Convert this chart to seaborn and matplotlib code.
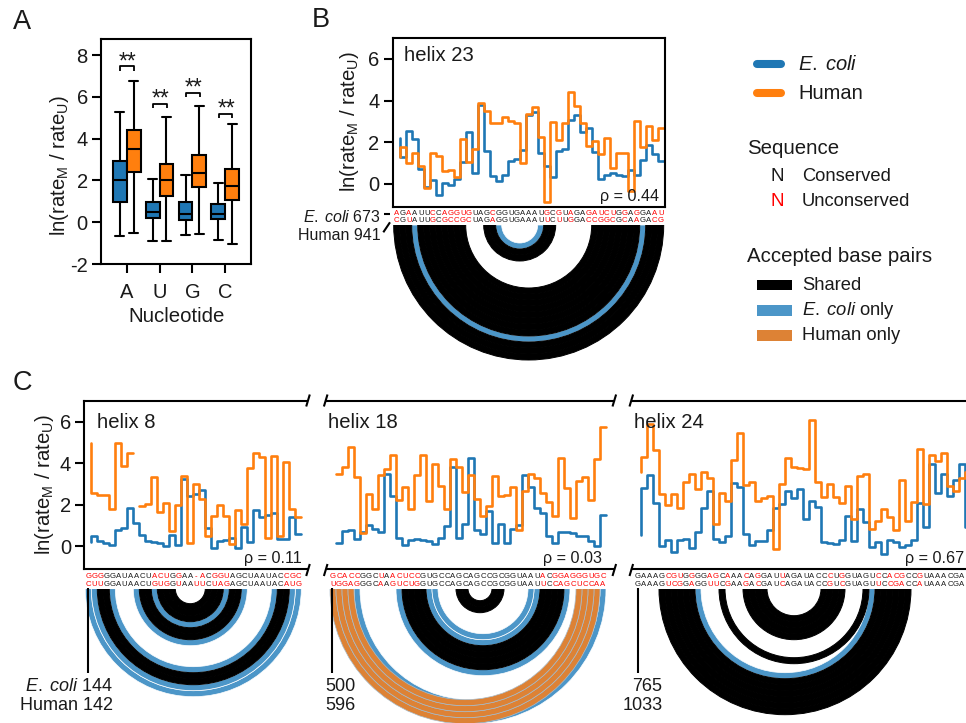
import numpy as np
import pandas as pd
import matplotlib
matplotlib.use("Agg")
import matplotlib.pyplot as plt
from matplotlib.patches import Wedge, Rectangle
import seaborn as sns

W, H = 966, 723
BLUE, ORANGE = "#1f77b4", "#ff7f0e"
ARC_BLUE, ARC_ORANGE = "#4c96c8", "#dd8235"
RED = "#ff0000"
INK = "#1a1a1a"

# ---------- Panel A: five-number summaries (min, q1, median, q3, max) ----------
nucleotides = ["A", "U", "G", "C"]
ecoli_box = {
    "A": [-0.67, 0.97, 2.03, 2.94, 5.27],
    "U": [-0.88, 0.21, 0.51, 0.97, 2.09],
    "G": [-0.62, 0.13, 0.41, 0.97, 2.24],
    "C": [-0.85, 0.14, 0.37, 0.86, 1.90],
}
human_box = {
    "A": [-0.50, 2.38, 3.51, 4.41, 6.77],
    "U": [-0.88, 1.26, 2.01, 2.78, 5.03],
    "G": [-0.57, 1.68, 2.36, 3.23, 5.54],
    "C": [-1.05, 1.07, 1.74, 2.54, 4.70],
}
bracket_heights = [7.46, 5.67, 6.18, 5.20]

# ---------- Rate traces ----------
h23_ecoli = [2.22,1.28,2.56,2.16,0.70,-0.13,0.19,-0.53,0.06,-0.05,0.22,1.07,2.51,0.54,3.79,1.58,0.38,0.14,0.42,1.10,1.18,1.63,3.30,3.47,1.47,0.85,0.32,1.60,1.68,3.07,3.31,2.51,2.70,1.52,0.24,0.43,0.51,0.43,0.40,0.67,0.43,1.15,1.87,1.42,1.10]
h23_human = [1.31,1.79,0.99,1.47,0.88,-0.18,1.47,1.36,0.62,0.67,0.32,2.16,1.07,1.68,3.90,3.50,2.91,2.91,3.23,3.02,2.91,0.99,3.36,3.68,2.24,-0.85,2.99,2.11,2.93,4.40,3.76,2.94,1.84,2.08,1.44,2.22,0.75,1.47,1.50,-0.34,3.04,1.79,2.80,2.10,2.67]
h8_ecoli = [0.20,0.51,0.26,0.16,0.08,0.78,0.88,1.87,1.12,0.54,0.24,0.19,0.16,0.03,0.56,0.08,3.23,2.43,2.50,2.70,0.88,-0.10,0.24,0.30,0.40,-0.08,0.91,0.19,1.76,1.39,1.50,1.63,0.35,0.35,1.39,0.61]
h8_human = [4.99,2.59,2.46,2.46,1.79,4.99,3.87,4.51,1.92,1.92,2.06,3.36,1.66,2.11,0.75,1.98,3.39,0.16,2.99,2.27,0.51,1.47,1.98,1.47,0.11,1.76,1.07,3.78,4.51,4.30,0.38,4.35,0.48,4.08,1.79,1.41]
h8_human_break = 8  # the human trace has no value across the alignment gap before this index
h18_ecoli = [0.16,0.16,0.75,0.80,0.35,0.70,1.02,0.86,0.67,3.47,2.43,0.38,0.08,0.30,0.35,0.30,0.26,0.13,0.40,0.99,3.82,0.40,1.07,4.27,0.78,0.59,1.71,0.14,1.10,0.16,0.86,1.02,3.42,2.86,1.87,1.63,0.51,0.16,0.67,0.67,0.62,0.51,0.48,0.27,0.03,1.50]
h18_human = [3.47,3.47,3.82,4.80,3.34,0.64,2.54,1.79,3.44,3.71,4.40,2.22,2.88,1.79,3.44,4.42,2.19,3.95,2.91,1.82,4.19,3.84,2.64,3.44,2.27,1.47,1.95,3.39,2.43,2.48,2.86,0.80,2.67,3.47,3.31,2.56,2.14,1.47,4.27,2.83,1.36,3.15,3.34,2.24,4.19,5.73]
h24_ecoli = [0.56,2.83,3.44,2.08,0.00,0.32,-0.29,0.32,0.37,-0.06,0.70,1.84,2.69,0.35,0.22,0.51,3.07,2.88,0.59,0.05,0.26,0.26,0.80,1.86,2.03,2.69,2.34,2.75,1.34,2.19,1.90,0.19,0.16,0.10,0.30,1.47,0.27,1.82,1.15,-0.03,0.19,-0.37,0.32,0.22,-0.03,0.06,0.30,2.11,0.91,3.98,2.59,3.47,2.43,3.20,3.98,0.94]
h24_human = [3.58,4.30,5.87,4.62,2.51,1.97,2.51,1.84,3.10,3.47,2.75,3.58,3.28,1.06,2.56,2.19,4.16,5.47,2.96,3.12,2.19,2.35,2.43,-0.13,3.00,4.27,3.84,3.76,3.71,6.10,3.10,2.40,2.99,2.38,2.08,2.91,1.34,3.39,3.49,0.86,1.20,1.79,1.42,0.80,3.20,1.20,2.14,4.67,2.06,4.40,4.11,4.48,2.91,2.67,3.30,3.60]

# ---------- Aligned sequences ----------
h23_seq = ("AGAAUUCCAGGUGUAGCGGUGAAAUGCGUAGAGAUCUGGAGGAAU", "CGUAUUGCGCCGCUAGAGGUGAAAUUCUUGGACCGGCGCAAGACG")
h8_seq = ("GGGGGAUAACUACUGGAA-ACGGUAGCUAAUACCGC", "CUUGGAUAACUGUGGUAAUUCUAGAGCUAAUACAUG")
h18_seq = ("GCACCGGCUAACUCCGUGCCAGCAGCCGCGGUAAUACGGAGGGUGC", "UGGAGGGCAAGUCUGGUGCCAGCAGCCGCGGUAAUUCCAGCUCCAA")
h24_seq = ("GAAAGCGUGGGGAGCAAACAGGAUUAGAUACCCUGGUAGUCCACGCCGUAAACGAU", "GAAAGUCGGAGGUUCGAAGACGAUCAGAUACCGUCGUAGUUCCGACCAUAAACGAU")

# ---------- Base pairs (0-based alignment columns) ----------
h23_shared = [(0,44),(1,43),(2,42),(4,40),(5,39),(6,38),(7,37),(8,36),(9,35),(10,34),(11,33),(15,26),(16,25)]
h23_ecoli_only = [(3,41),(17,24)]
h23_human_only = []
h8_shared = [(2,33),(3,32),(9,25),(10,24),(12,22),(13,21),(14,20)]
h8_ecoli_only = [(0,35),(1,34),(4,31),(8,26),(11,23)]
h8_human_only = []
h18_shared = [(12,38),(13,37),(14,36),(15,35),(21,28),(22,27)]
h18_ecoli_only = [(1,45),(2,44),(3,43),(4,42),(11,39),(16,34),(17,33)]
h18_human_only = [(0,44),(1,43),(2,42),(3,41)]
h24_shared = [(4,45),(5,44),(6,43),(7,42),(8,41),(9,40),(14,38),(18,34),(19,33),(20,32),(21,31)]
h24_ecoli_only = [(10,39)]
h24_human_only = []

rhos = {"helix 23": "0.44", "helix 8": "0.11", "helix 18": "0.03", "helix 24": "0.67"}

# ---------- Style ----------
sns.set_style("ticks")
plt.rcParams["font.family"] = ["Liberation Sans", "DejaVu Sans"]
plt.rcParams["mathtext.fontset"] = "custom"
plt.rcParams["mathtext.rm"] = "Liberation Sans"
plt.rcParams["mathtext.it"] = "Liberation Sans:italic"
plt.rcParams["axes.unicode_minus"] = False
plt.rcParams["text.color"] = INK
plt.rcParams["axes.labelcolor"] = INK
plt.rcParams["xtick.color"] = INK
plt.rcParams["ytick.color"] = INK
YLABEL = r"ln(rate$_{\mathrm{M}}$ / rate$_{\mathrm{U}}$)"
ECOLI = r"$\mathit{E.\;coli}$"
SP = 1.5  # spine width

fig = plt.figure(figsize=(W / 100, H / 100), dpi=100, facecolor="white")


def px_axes(left, top, right, bottom, **kw):
    return fig.add_axes([left / W, 1 - bottom / H, (right - left) / W, (bottom - top) / H], **kw)


def style_axis(ax):
    for s in ax.spines.values():
        s.set_linewidth(SP)
        s.set_color("black")
    ax.tick_params(axis="both", length=6.5, width=SP, labelsize=14.5, pad=3, color="black")


# ---------- Panel A ----------
box_rows = []
for name, table in (("E. coli", ecoli_box), ("Human", human_box)):
    for nt in nucleotides:
        for v in table[nt]:
            box_rows.append((name, nt, v))
box_df = pd.DataFrame(box_rows, columns=["organism", "nucleotide", "rate"])
axA = px_axes(101, 39, 251.5, 264)
sns.boxplot(data=box_df, x="nucleotide", y="rate", hue="organism", order=nucleotides,
            hue_order=["E. coli", "Human"], palette={"E. coli": BLUE, "Human": ORANGE},
            whis=(0, 100), width=0.84, gap=0, showfliers=False, linewidth=1.5,
            linecolor="black", saturation=1, capwidths=0.28, legend=False, ax=axA)
axA.set_xlim(-0.785, 3.8)
axA.set_ylim(-2, 8.77)
axA.set_yticks([-2, 0, 2, 4, 6, 8])
axA.set_xlabel("Nucleotide", fontsize=14.7, labelpad=4)
axA.set_ylabel(YLABEL, fontsize=14.7)
axA.yaxis.set_label_coords((71 - 101) / 150.5, (264 - 165) / 225)
style_axis(axA)
axA.tick_params(axis="x", pad=7)
for i, h in enumerate(bracket_heights):
    axA.plot([i - 0.2, i - 0.2, i + 0.22, i + 0.22], [h - 0.2, h, h, h - 0.2], color="black", lw=1.3, solid_capstyle="butt")
    axA.text(i + 0.03, h + 0.22, "**", ha="center", va="center", fontsize=16.5, color=INK)


def rate_frame(ecoli, human, human_break=None):
    rows = []
    for i, v in enumerate(ecoli):
        rows.append(("E. coli", i + 1, v, 0))
    for i, v in enumerate(human):
        rows.append(("Human", i + 1, v, int(human_break is not None and i >= human_break)))
    return pd.DataFrame(rows, columns=["organism", "pos", "rate", "run"])


def trace_axes(left, top, right, bottom, origin, ecoli, human, human_break=None):
    ax = px_axes(left, top, right, bottom)
    df = rate_frame(ecoli, human, human_break)
    sns.lineplot(data=df, x="pos", y="rate", hue="organism", hue_order=["E. coli", "Human"],
                 palette={"E. coli": BLUE, "Human": ORANGE}, units="run", estimator=None,
                 drawstyle="steps-pre", linewidth=1.9, legend=False, ax=ax)
    ax.set_xlim((left - origin) / 6, (right - origin) / 6)
    ax.set_ylim(-1.09, 7.0)
    ax.set_yticks([0, 2, 4, 6])
    ax.set_xticks([])
    ax.set_xlabel("")
    ax.set_ylabel("")
    style_axis(ax)
    return ax


def arc_axes(left, top, right, bottom, origin, shared, ecoli_only, human_only):
    ax = px_axes(left, top, right, bottom)
    ax.set_xlim((left - origin) / 6, (right - origin) / 6)
    ax.set_ylim(-(bottom - top) / 6, 0)
    ax.axis("off")
    for pairs, colour, edge, lw in ((ecoli_only, ARC_BLUE, "white", 0.5),
                                    (shared, "black", "black", 0.7),
                                    (human_only, ARC_ORANGE, "#a8bccb", 0.5)):
        for i, j in pairs:
            ax.add_patch(Wedge(((i + j + 1) / 2, 0), (j - i) / 2 + 0.5, 180, 360, width=1,
                               facecolor=colour, edgecolor=edge, linewidth=lw))
    return ax


# Panel B
axB = trace_axes(392.7, 38, 665, 206.7, 393.7, h23_ecoli, h23_human)
axB.set_ylabel(YLABEL, fontsize=14.7)
axB.yaxis.set_label_coords((360.7 - 392.7) / 272.3, (206.7 - 121) / 168.7)
arc_axes(392.7, 225, 665, 362, 393.7, h23_shared, h23_ecoli_only, h23_human_only)

# Panel C
ax8 = trace_axes(84.3, 401, 306.7, 569, 85.3, h8_ecoli, h8_human, h8_human_break)
ax8.spines["right"].set_visible(False)
ax8.set_ylabel(YLABEL, fontsize=14.7)
ax8.yaxis.set_label_coords((55.7 - 84.3) / 222.4, (569 - 484) / 168)
ax18 = trace_axes(326.7, 401, 613.5, 569, 330, h18_ecoli, h18_human)
ax24 = trace_axes(632, 401, 985, 569, 635, h24_ecoli, h24_human)
for ax in (ax18, ax24):
    ax.spines["left"].set_visible(False)
    ax.spines["right"].set_visible(False)
    ax.set_yticks([])
arc_axes(84.3, 588.7, 306.7, 723, 85.3, h8_shared, h8_ecoli_only, h8_human_only)
arc_axes(326.7, 588.7, 613.5, 723, 330, h18_shared, h18_ecoli_only, h18_human_only)
arc_axes(632, 588.7, 985, 723, 635, h24_shared, h24_ecoli_only, h24_human_only)

# ---------- Overlay in pixel coordinates: annotations and legend ----------
ov = fig.add_axes([0, 0, 1, 1], zorder=10)
ov.set_xlim(0, W)
ov.set_ylim(H, 0)
ov.axis("off")


def label(x, y, s, size=14.5, ha="left", color=INK, **kw):
    return ov.text(x, y, s, fontsize=size, ha=ha, va="center", color=color, **kw)


def stroke(xs, ys, lw=1.5, color="black", **kw):
    ov.plot(xs, ys, color=color, lw=lw, solid_capstyle="butt", **kw)


label(13, 22, "A", 19.5)
label(312, 20, "B", 19.5)
label(13, 383, "C", 19.5)

# Helix names and correlations
for x, y, s in ((404.3, 55.7, "helix 23"), (97.3, 422, "helix 8"), (328.3, 422, "helix 18"), (634.3, 422, "helix 24")):
    label(x, y, s, 14.6)
for x, y, s in ((659, 196, "helix 23"), (301.7, 558, "helix 8"), (602.3, 558, "helix 18"), (964, 558, "helix 24")):
    label(x, y, "\u03c1 = " + rhos[s], 11.6, ha="right")

# Sequences
for origin, y1, y2, (top_seq, bot_seq) in ((393.7, 213.3, 220.3, h23_seq), (85.3, 576.7, 584, h8_seq),
                                           (330, 576.7, 584, h18_seq), (635, 576.7, 584, h24_seq)):
    for n, (a, b) in enumerate(zip(top_seq, bot_seq)):
        c = INK if a == b else RED
        x = origin + 6 * (n + 0.5)
        if x < W - 2:
            ov.text(x, y1, a, fontsize=5.6, ha="center", va="center", color=c)
            ov.text(x, y2, b, fontsize=5.6, ha="center", va="center", color=c)

# Break marks
for x, y in ((308, 400.5), (308, 570), (325.7, 400.5), (614.3, 400.5), (325.7, 570), (614.3, 570), (631.3, 400.5), (631.3, 570)):
    stroke([x - 1.8, x + 1.8], [y + 6, y - 6], 1.5)

# Numbering
label(380.7, 217, ECOLI + " 673", 11.5, ha="right")
label(380.7, 235.7, "Human 941", 11.5, ha="right")
stroke([384.3, 390], [214, 214], 1.5)
stroke([383.3, 390], [232.3, 222.3], 1.5)
for x, y0 in ((88, 588), (332.3, 588), (638, 588)):
    stroke([x, x], [y0, 673], 1.5)
label(112.7, 686.7, ECOLI + " 144", 13, ha="right")
label(112.7, 705, "Human 142", 13, ha="right")
label(356, 686.7, "500", 13, ha="right")
label(356, 705, "596", 13, ha="right")
label(662.3, 686.7, "765", 13, ha="right")
label(662.3, 705, "1033", 13, ha="right")

# Legend
ov.plot([757, 781], [64.3, 64.3], color=BLUE, lw=5.8, solid_capstyle="round")
ov.plot([757, 781], [93.3, 93.3], color=ORANGE, lw=5.8, solid_capstyle="round")
label(798, 64.3, ECOLI, 14.5)
label(798, 93.3, "Human", 14.5)
label(747, 149, "Sequence", 14.7)
label(777, 176.7, "N", 13.5, ha="center")
label(777, 201.3, "N", 13.5, ha="center", color=RED)
label(802, 176.7, "Conserved", 13.2)
label(802, 201.3, "Unconserved", 13.2)
label(747, 256.7, "Accepted base pairs", 14.7)
for y, colour, s in ((285, "black", "Shared"), (310.3, ARC_BLUE, ECOLI + " only"), (335.7, ARC_ORANGE, "Human only")):
    ov.add_patch(Rectangle((757.3, y - 5.4), 34.7, 10.8, facecolor=colour, edgecolor="none"))
    label(802, y, s, 13.2)

fig.savefig("out.png", dpi=100, facecolor="white")
